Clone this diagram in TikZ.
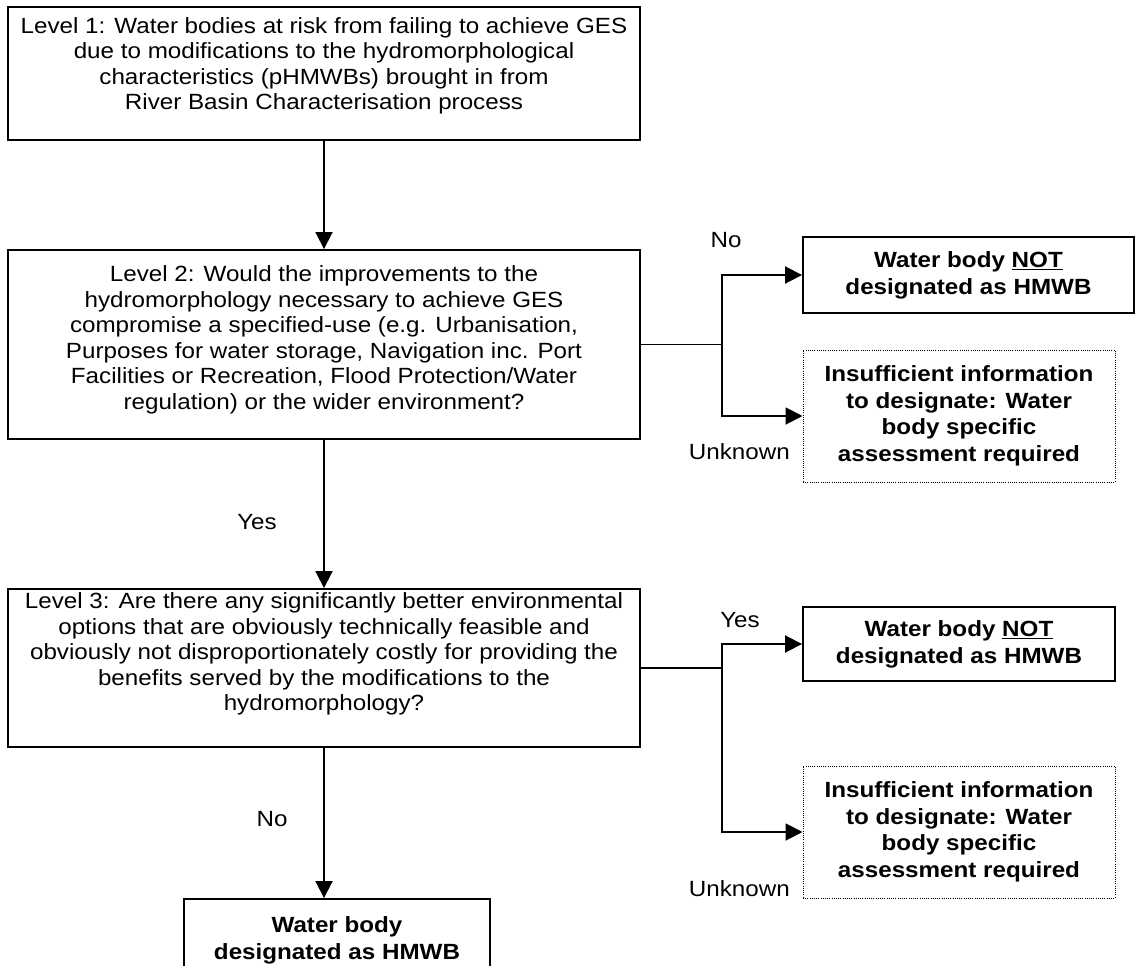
\documentclass[tikz,border=0pt]{standalone}
\usepackage{fontspec}
\setmainfont{Liberation Sans}[FakeStretch=1.1]
\usetikzlibrary{arrows.meta}
\begin{document}
\begin{tikzpicture}[x=1pt,y=-1pt,
  box/.style={draw, line width=1.9pt, inner sep=0pt},
  dbox/.style={draw, line width=1pt, dash pattern=on 1pt off 1.2pt, inner sep=0pt, align=center,
    font=\fontsize{22}{26.5}\selectfont\bfseries},
  nbox/.style={box, align=center, font=\fontsize{22}{27}\selectfont\bfseries},
  txt/.style={align=center, inner sep=0pt, font=\fontsize{22}{25.5}\selectfont},
  btxt/.style={align=center, inner sep=0pt, font=\fontsize{22}{27}\selectfont\bfseries},
  lbl/.style={inner sep=0pt, font=\fontsize{22}{26}\selectfont},
  arr/.style={-{Triangle[length=17pt,width=17pt]}, line width=1.9pt},
  ln/.style={line width=1.9pt}]
\useasboundingbox (0,0) rectangle (1136,966);
\clip (0,0) rectangle (1136,966);

% main boxes
\node[box, minimum width=632pt, minimum height=133pt] (b1) at (324,73.5) {};
\node[txt] (t1) at (324,66) {Level 1: Water bodies at risk from failing to achieve GES\\
due to modifications to the hydromorphological\\
characteristics (pHMWBs) brought in from\\
River Basin Characterisation process};

\node[box, minimum width=632pt, minimum height=189pt] (b2) at (324,344.5) {};
\node[txt] (t2) at (324,340) {Level 2: Would the improvements to the\\
hydromorphology necessary to achieve GES\\
compromise a specified-use (e.g. Urbanisation,\\
Purposes for water storage, Navigation inc. Port\\
Facilities or Recreation, Flood Protection/Water\\
regulation) or the wider environment?};

\node[box, minimum width=632pt, minimum height=158pt] (b3) at (324,668) {};
\node[txt] (t3) at (324,654) {Level 3: Are there any significantly better environmental\\
options that are obviously technically feasible and\\
obviously not disproportionately costly for providing the\\
benefits served by the modifications to the\\
hydromorphology?};

\node[box, minimum width=306pt, minimum height=86pt] (b4) at (337,942) {};
\node[btxt] (t4) at (337,940) {Water body\\designated as HMWB};

% right-hand outcomes
\node[nbox, minimum width=331pt, minimum height=76pt] (n1) at (968.5,275)
  {Water body \underline{NOT}\\designated as HMWB};
\node[dbox, minimum width=312pt, minimum height=132pt] (d1) at (959,416)
  {Insufficient information\\to designate: Water\\body specific\\assessment required};
\node[nbox, minimum width=312pt, minimum height=74pt] (n2) at (959,644)
  {Water body \underline{NOT}\\designated as HMWB};
\node[dbox, minimum width=312pt, minimum height=132pt] (d2) at (959,832)
  {Insufficient information\\to designate: Water\\body specific\\assessment required};

% connectors
\draw[arr] (b1.south) -- (b2.north);
\draw[arr] (b2.south) -- (b3.north);
\draw[arr] (b3.south) -- (b3.south |- b4.north);

\coordinate (j1) at (722,344.5);
\coordinate (j2) at (722,668);
\draw[ln] (b2.east) -- (j1);
\draw[arr] (j1) |- (n1.west);
\draw[arr] (j1) |- (d1.west);
\draw[ln] (b3.east) -- (j2);
\draw[arr] (j2) |- (n2.west);
\draw[arr] (j2) |- (d2.west);

% labels
\node[lbl] (lno1) at (726,240) {No};
\node[lbl, anchor=east] (lun1) at (790,452) {Unknown};
\node[lbl] (lyes1) at (257,522) {Yes};
\node[lbl] (lyes2) at (740,620) {Yes};
\node[lbl, anchor=east] (lun2) at (790,889) {Unknown};
\node[lbl] (lno2) at (272,819) {No};
\end{tikzpicture}
\end{document}
